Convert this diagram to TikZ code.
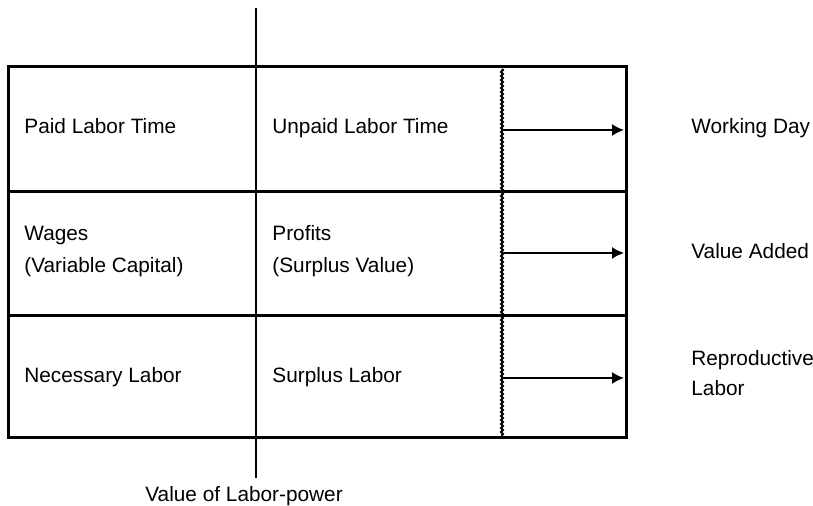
\documentclass[tikz,border=0pt]{standalone}
\usepackage{fontspec}
\setmainfont{Liberation Sans}
\usetikzlibrary{arrows.meta}
\usetikzlibrary{positioning}
\usetikzlibrary{decorations.pathmorphing}

\begin{document}
\begin{tikzpicture}[x=0.5pt,
                    y=-0.5pt,
                    frame/.style={line width=1.5pt},
                    divider/.style={line width=0.75pt},
                    cut/.style={line width=1pt,decorate,
                                decoration={zigzag,amplitude=0.5pt,segment length=2pt}},
                    flow/.style={-{Latex[length=6pt,width=6pt]},line width=0.8pt},
                    cell/.style={anchor=base west,align=left,inner sep=0pt,
                                 font=\fontsize{10.4}{16}\selectfont},
                    side/.style={anchor=base west,align=left,inner sep=0pt,
                                 font=\fontsize{10.4}{15}\selectfont}
                    ]
  \useasboundingbox (0,0) rectangle (813,506);
  % table frame and rows
  \draw[frame] (8,67) rectangle (626,438);
  \draw[frame] (8,192) -- (626,192);
  \draw[frame] (8,316) -- (626,316);
  \draw[divider] (256,8) -- (256,478);
  \draw[cut] (502,69) -- (502,436);
  % cells (two-line cells placed by their last line)
  \node[cell] (paid)      at (24,134)  {Paid Labor Time};
  \node[cell] (unpaid)    at (272,134) {Unpaid Labor Time};
  \node[cell] (wages)     at (24,273)  {Wages\\(Variable Capital)};
  \node[cell] (profits)   at (272,273) {Profits\\(Surplus Value)};
  \node[cell] (necessary) at (24,383)  {Necessary Labor};
  \node[cell] (surplus)   at (272,383) {Surplus Labor};
  % right hand labels
  \node[side] (day)   at (691,134) {Working Day};
  \node[side] (added) at (691,259) {Value Added};
  \node[side] (repro) at (691,396) {Reproductive\\Labor};
  \node[cell] (lpower) at (145,502) {Value of Labor-power};
  % arrows
  \foreach \y [count=\i] in {130,253,378} {
    \coordinate (cut\i) at (503,\y);
    \coordinate (edge\i) at (624,\y);
    \draw[flow] (cut\i) -- (edge\i);
  }
\end{tikzpicture}
\end{document}
